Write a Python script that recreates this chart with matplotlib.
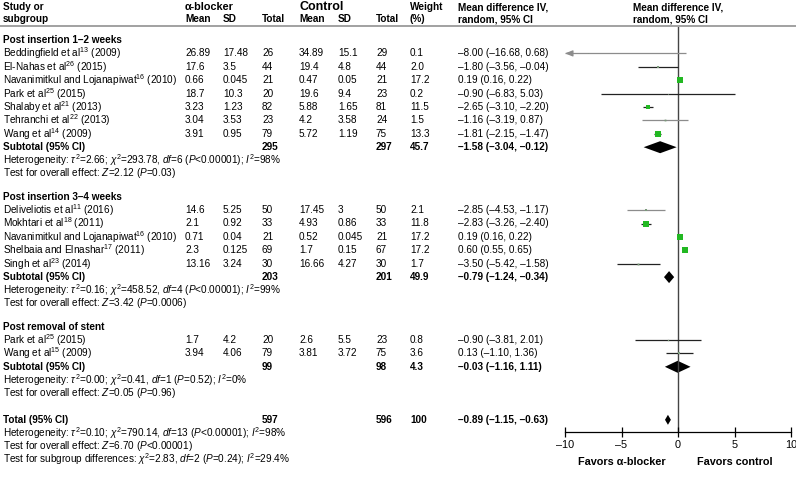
import matplotlib
matplotlib.use('Agg')
import matplotlib.pyplot as plt
import numpy as np

plt.rcParams['font.family'] = ['Liberation Sans', 'DejaVu Sans']
plt.rcParams['mathtext.fontset'] = 'custom'
plt.rcParams['mathtext.rm'] = 'Liberation Sans'
plt.rcParams['mathtext.it'] = 'Liberation Sans:italic'
plt.rcParams['mathtext.bf'] = 'Liberation Sans:bold'

# ---- data ----
g1_title = 'Post insertion 1\u20132 weeks'
g1_study = ['Beddingfield et al', 'El-Nahas et al', 'Navanimitkul and Lojanapiwat',
            'Park et al', 'Shalaby et al', 'Tehranchi et al', 'Wang et al']
g1_ref = ['13', '26', '16', '25', '21', '22', '14']
g1_year = ['2009', '2015', '2010', '2015', '2013', '2013', '2009']
g1_a_mean = [26.89, 17.6, 0.66, 18.7, 3.23, 3.04, 3.91]
g1_a_sd = [17.48, 3.5, 0.045, 10.3, 1.23, 3.53, 0.95]
g1_a_n = [26, 44, 21, 20, 82, 23, 79]
g1_c_mean = [34.89, 19.4, 0.47, 19.6, 5.88, 4.2, 5.72]
g1_c_sd = [15.1, 4.8, 0.05, 9.4, 1.65, 3.58, 1.19]
g1_c_n = [29, 44, 21, 23, 81, 24, 75]
g1_weight = [0.1, 2.0, 17.2, 0.2, 11.5, 1.5, 13.3]
g1_md = [-8.00, -1.80, 0.19, -0.90, -2.65, -1.16, -1.81]
g1_lo = [-16.68, -3.56, 0.16, -6.83, -3.10, -3.19, -2.15]
g1_hi = [0.68, -0.04, 0.22, 5.03, -2.20, 0.87, -1.47]
g1_sub = [295, 297, 45.7, -1.58, -3.04, -0.12]
g1_het = r'Heterogeneity: $\tau^2$=2.66; $\chi^2$=293.78, $\it{df}$=6 ($\it{P}$<0.00001); $\it{I}^2$=98%'
g1_test = r'Test for overall effect: $\it{Z}$=2.12 ($\it{P}$=0.03)'

g2_title = 'Post insertion 3\u20134 weeks'
g2_study = ['Deliveliotis et al', 'Mokhtari et al', 'Navanimitkul and Lojanapiwat',
            'Shelbaia and Elnashar', 'Singh et al']
g2_ref = ['11', '18', '16', '17', '23']
g2_year = ['2016', '2011', '2010', '2011', '2014']
g2_a_mean = [14.6, 2.1, 0.71, 2.3, 13.16]
g2_a_sd = [5.25, 0.92, 0.04, 0.125, 3.24]
g2_a_n = [50, 33, 21, 69, 30]
g2_c_mean = [17.45, 4.93, 0.52, 1.7, 16.66]
g2_c_sd = [3, 0.86, 0.045, 0.15, 4.27]
g2_c_n = [50, 33, 21, 67, 30]
g2_weight = [2.1, 11.8, 17.2, 17.2, 1.7]
g2_md = [-2.85, -2.83, 0.19, 0.60, -3.50]
g2_lo = [-4.53, -3.26, 0.16, 0.55, -5.42]
g2_hi = [-1.17, -2.40, 0.22, 0.65, -1.58]
g2_sub = [203, 201, 49.9, -0.79, -1.24, -0.34]
g2_het = r'Heterogeneity: $\tau^2$=0.16; $\chi^2$=458.52, $\it{df}$=4 ($\it{P}$<0.00001); $\it{I}^2$=99%'
g2_test = r'Test for overall effect: $\it{Z}$=3.42 ($\it{P}$=0.0006)'

g3_title = 'Post removal of stent'
g3_study = ['Park et al', 'Wang et al']
g3_ref = ['25', '15']
g3_year = ['2015', '2009']
g3_a_mean = [1.7, 3.94]
g3_a_sd = [4.2, 4.06]
g3_a_n = [20, 79]
g3_c_mean = [2.6, 3.81]
g3_c_sd = [5.5, 3.72]
g3_c_n = [23, 75]
g3_weight = [0.8, 3.6]
g3_md = [-0.90, 0.13]
g3_lo = [-3.81, -1.10]
g3_hi = [2.01, 1.36]
g3_sub = [99, 98, 4.3, -0.03, -1.16, 1.11]
g3_het = r'Heterogeneity: $\tau^2$=0.00; $\chi^2$=0.41, $\it{df}$=1 ($\it{P}$=0.52); $\it{I}^2$=0%'
g3_test = r'Test for overall effect: $\it{Z}$=0.05 ($\it{P}$=0.96)'

total = [597, 596, 100, -0.89, -1.15, -0.63]
total_notes = [
    r'Heterogeneity: $\tau^2$=0.10; $\chi^2$=790.14, $\it{df}$=13 ($\it{P}$<0.00001); $\it{I}^2$=98%',
    r'Test for overall effect: $\it{Z}$=6.70 ($\it{P}$<0.00001)',
    r'Test for subgroup differences: $\chi^2$=2.83, $\it{df}$=2 ($\it{P}$=0.24); $\it{I}^2$=29.4%',
]
xticks = [-10, -5, 0, 5, 10]

# grey (True) or black CI lines, as in the original
g1_grey = [True, False, False, False, False, True, False]
g2_grey = [True, False, False, False, False]
g3_grey = [False, False]

groups = [
    (g1_title, g1_study, g1_ref, g1_year, g1_a_mean, g1_a_sd, g1_a_n, g1_c_mean, g1_c_sd, g1_c_n,
     g1_weight, g1_md, g1_lo, g1_hi, g1_sub, g1_het, g1_test, g1_grey),
    (g2_title, g2_study, g2_ref, g2_year, g2_a_mean, g2_a_sd, g2_a_n, g2_c_mean, g2_c_sd, g2_c_n,
     g2_weight, g2_md, g2_lo, g2_hi, g2_sub, g2_het, g2_test, g2_grey),
    (g3_title, g3_study, g3_ref, g3_year, g3_a_mean, g3_a_sd, g3_a_n, g3_c_mean, g3_c_sd, g3_c_n,
     g3_weight, g3_md, g3_lo, g3_hi, g3_sub, g3_het, g3_test, g3_grey),
]

# ---- layout (pixels) ----
W, H = 796, 484
FS = 7.2
col_x = [3, 185, 223, 262, 299, 338, 376, 410, 458]
pitch = 13.4
axis_y = 432
top_y = 27
green = '#22b822'


def fnum(v):
    return ('%.2f' % v).replace('-', '\u2013')


def fci(md, lo, hi):
    return '%s (%s, %s)' % (fnum(md), fnum(lo), fnum(hi))


fig = plt.figure(figsize=(W / 100, H / 100), dpi=100)
tx = fig.add_axes([0, 0, 1, 1])
tx.set_xlim(0, W)
tx.set_ylim(H, 0)
tx.axis('off')

ax = fig.add_axes([565 / W, (H - axis_y) / H, 226 / W, (axis_y - top_y) / H])
ax.set_facecolor('none')
ax.set_xlim(-10, 10)
ax.set_ylim(axis_y, top_y)


def txt(x, y, s, bold=False, size=FS, **kw):
    tx.text(x, y, s, fontsize=size, fontweight='bold' if bold else 'normal',
            va='center', ha='left', **kw)


# header
txt(col_x[0], 7, 'Study or', bold=True)
txt(col_x[0], 19, 'subgroup', bold=True)
txt(col_x[1], 7, '\u03b1-blocker', bold=True, size=7.8)
txt(col_x[4], 6.5, 'Control', bold=True, size=9)
for i, h in zip(range(1, 7), ['Mean', 'SD', 'Total', 'Mean', 'SD', 'Total']):
    txt(col_x[i], 19, h, bold=True)
txt(col_x[7], 7, 'Weight', bold=True)
txt(col_x[7], 19, '(%)', bold=True)
txt(col_x[8], 7, 'Mean difference IV,', bold=True)
txt(col_x[8], 19, 'random, 95% CI', bold=True)
txt(633, 7, 'Mean difference IV,', bold=True)
txt(633, 19, 'random, 95% CI', bold=True)
tx.plot([0, W], [top_y - 1, top_y - 1], color='#9a9a9a', lw=1.3)

y = 40.0
for (title, study, ref, year, am, asd, an, cm, csd, cn, w, md, lo, hi, sub, het, test, grey) in groups:
    txt(col_x[0], y, title, bold=True)
    for k in range(len(study)):
        y += pitch
        txt(col_x[0], y, '%s$^{%s}$ (%s)' % (study[k], ref[k], year[k]))
        vals = ['%g' % am[k], '%g' % asd[k], '%d' % an[k], '%g' % cm[k], '%g' % csd[k], '%d' % cn[k],
                '%.1f' % w[k], fci(md[k], lo[k], hi[k])]
        for x, s in zip(col_x[1:], vals):
            txt(x, y, s)
        c = '#8c8c8c' if grey[k] else '#222222'
        left = max(lo[k], -10)
        ax.plot([left, hi[k]], [y, y], color=c, lw=0.9, solid_capstyle='butt')
        if lo[k] < -10:
            ax.annotate('', xy=(-10, y), xytext=(left + 0.5, y),
                        arrowprops=dict(arrowstyle='-|>,head_length=0.45,head_width=0.18',
                                        color=c, lw=0.9, shrinkA=0, shrinkB=0))
        ms = 1.05 * np.sqrt(w[k])
        ax.plot(md[k], y, 's', color=green if w[k] > 5 else '#7a9a7a',
                ms=ms, mew=0, zorder=4)
    y += pitch
    txt(col_x[0], y, 'Subtotal (95% CI)', bold=True)
    txt(col_x[3], y, '%d' % sub[0], bold=True)
    txt(col_x[6], y, '%d' % sub[1], bold=True)
    txt(col_x[7], y, '%.1f' % sub[2], bold=True)
    txt(col_x[8], y, fci(sub[3], sub[4], sub[5]), bold=True)
    hh = 6.0
    ax.fill([sub[4], sub[3], sub[5], sub[3]], [y, y - hh, y, y + hh], color='black', lw=0)
    txt(col_x[0], y + 13, het)
    txt(col_x[0], y + 26, test)
    y += 26 + 23.5

# overall
y = y - 23.5 + 27
txt(col_x[0], y, 'Total (95% CI)', bold=True)
txt(col_x[3], y, '%d' % total[0], bold=True)
txt(col_x[6], y, '%d' % total[1], bold=True)
txt(col_x[7], y, '%d' % total[2], bold=True)
txt(col_x[8], y, fci(total[3], total[4], total[5]), bold=True)
ax.fill([total[4], total[3], total[5], total[3]], [y, y - 5, y, y + 5], color='black', lw=0)
for i, s in enumerate(total_notes):
    txt(col_x[0], y + 13 + 13 * i, s)

# forest axis
ax.axvline(0, color='#444444', lw=1, zorder=1)
for s in ['top', 'left', 'right']:
    ax.spines[s].set_visible(False)
ax.spines['bottom'].set_linewidth(0.9)
ax.set_yticks([])
ax.set_xticks(xticks)
ax.set_xticklabels([('%d' % t).replace('-', '\u2013') for t in xticks], fontsize=7.8)
ax.tick_params(axis='x', direction='inout', length=7, width=0.9, pad=2)

tx.text(622, 462, 'Favors \u03b1-blocker', fontsize=7.8, fontweight='bold', ha='center', va='center')
tx.text(735, 462, 'Favors control', fontsize=7.8, fontweight='bold', ha='center', va='center')

fig.savefig('out.png', dpi=100)
